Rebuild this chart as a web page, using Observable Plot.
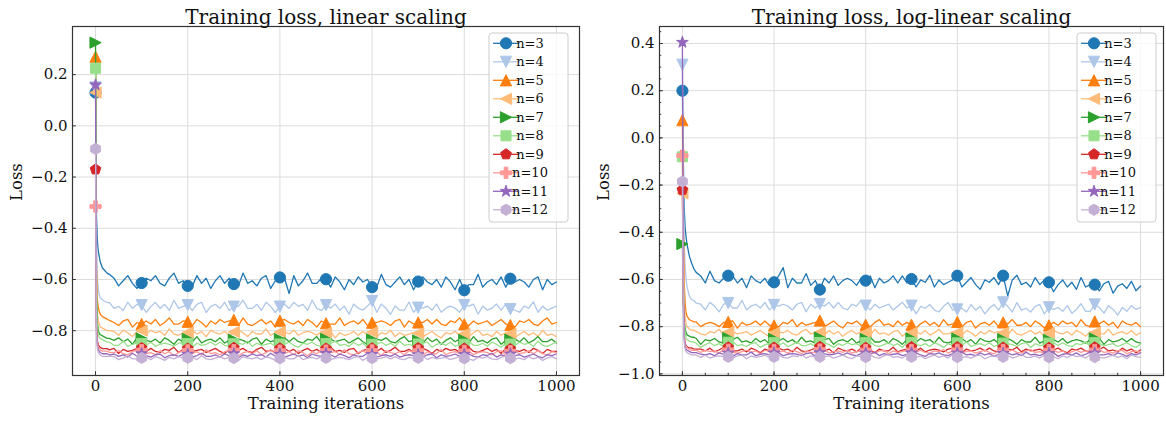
<!DOCTYPE html>
<html><head><meta charset="utf-8">
<script src="https://cdn.jsdelivr.net/npm/d3@7"></script>
<script src="https://cdn.jsdelivr.net/npm/@observablehq/plot@0.6"></script>
<style>
body{margin:0;background:#fff;}
#wrap{position:relative;width:1166px;height:422px;overflow:hidden;}
#wrap svg{position:absolute;top:0;}
</style></head><body><div id="wrap"></div>
<script>
// Iteration grid (x) — dense at the start, every 10 iterations afterwards
const iters = [0,2,4,6,8,10,15,20,25,30, ...d3.range(40, 1001, 10)];
const labels = ["n=3","n=4","n=5","n=6","n=7","n=8","n=9","n=10","n=11","n=12"];
const colors = ["#1f77b4","#aec7e8","#ff7f0e","#ffbb78","#2ca02c","#98df8a","#d62728","#ff9896","#9467bd","#c5b0d5"];
const xTicks = [0,200,400,600,800,1000];
const linYTicks = [0.2,0,-0.2,-0.4,-0.6,-0.8];
const logYTicks = [0.4,0.2,0,-0.2,-0.4,-0.6,-0.8,-1.0];

// ---- Training loss, linear scaling ----
const lin3 = [.13,-.35,-.45,-.49,-.51,-.53,-.555,-.565,-.575,-.58,
-.595,-.625,-.605,-.585,-.615,-.635,
-.614,-.595,-.605,-.585,-.615,-.625,-.595,-.575,-.615,-.605,
-.625,-.625,-.585,-.615,-.595,-.635,-.605,-.585,-.615,-.595,
-.618,-.625,-.575,-.615,-.605,-.625,-.595,-.585,-.635,-.605,
-.592,-.595,-.655,-.585,-.625,-.605,-.575,-.615,-.615,-.595,
-.599,-.63,-.59,-.61,-.64,-.60,-.62,-.59,-.61,-.60,
-.63,-.63,-.58,-.62,-.63,-.61,-.59,-.62,-.60,-.64,
-.608,-.59,-.61,-.62,-.60,-.63,-.59,-.61,-.64,-.60,
-.642,-.62,-.62,-.58,-.63,-.61,-.60,-.62,-.59,-.63,
-.597,-.61,-.60,-.61,-.63,-.60,-.59,-.64,-.60,-.62,-.61];
const lin4 = [.15,-.45,-.60,-.64,-.66,-.67,-.68,-.685,-.69,-.69,
-.713,-.705,-.721,-.689,-.713,-.697,
-.70,-.729,-.705,-.689,-.713,-.697,-.721,-.681,-.713,-.705,
-.70,-.721,-.697,-.689,-.729,-.705,-.697,-.713,-.689,-.721,
-.706,-.705,-.681,-.713,-.713,-.697,-.721,-.689,-.705,-.729,
-.706,-.697,-.713,-.689,-.705,-.697,-.721,-.681,-.713,-.721,
-.70,-.712,-.696,-.720,-.704,-.736,-.696,-.712,-.720,-.704,
-.684,-.728,-.696,-.712,-.736,-.704,-.720,-.720,-.688,-.728,
-.71,-.712,-.704,-.720,-.696,-.728,-.712,-.704,-.712,-.728,
-.70,-.704,-.696,-.736,-.704,-.720,-.712,-.696,-.720,-.696,
-.716,-.720,-.728,-.704,-.712,-.688,-.728,-.704,-.720,-.712,-.704];
const lin5 = [.27,-.55,-.68,-.71,-.725,-.735,-.745,-.75,-.755,-.76,
-.768,-.780,-.762,-.756,-.786,-.768,
-.774,-.762,-.774,-.756,-.780,-.768,-.750,-.774,-.774,-.762,
-.765,-.780,-.756,-.768,-.786,-.762,-.774,-.756,-.768,-.762,
-.758,-.780,-.750,-.774,-.780,-.768,-.756,-.774,-.762,-.786,
-.761,-.756,-.768,-.774,-.762,-.780,-.756,-.768,-.786,-.762,
-.771,-.774,-.774,-.750,-.780,-.768,-.762,-.774,-.756,-.780,
-.769,-.768,-.762,-.768,-.780,-.762,-.756,-.786,-.762,-.774,
-.768,-.768,-.756,-.774,-.756,-.774,-.780,-.762,-.768,-.750,
-.775,-.780,-.762,-.774,-.768,-.762,-.780,-.768,-.756,-.774,
-.778,-.786,-.762,-.768,-.756,-.774,-.780,-.762,-.750,-.774,-.768];
const lin6 = [.13,-.60,-.73,-.76,-.775,-.785,-.79,-.795,-.80,-.80,
-.803,-.818,-.798,-.808,-.823,-.803,
-.80,-.813,-.798,-.808,-.803,-.818,-.793,-.813,-.818,-.808,
-.807,-.798,-.813,-.803,-.823,-.798,-.808,-.813,-.803,-.818,
-.805,-.798,-.808,-.823,-.803,-.813,-.813,-.793,-.818,-.808,
-.805,-.803,-.813,-.798,-.818,-.808,-.803,-.808,-.818,-.803,
-.808,-.803,-.828,-.808,-.818,-.813,-.803,-.818,-.803,-.818,
-.806,-.823,-.808,-.813,-.798,-.823,-.808,-.818,-.813,-.808,
-.81,-.823,-.813,-.803,-.818,-.828,-.808,-.813,-.803,-.818,
-.812,-.823,-.808,-.798,-.818,-.813,-.823,-.803,-.818,-.808,
-.812,-.828,-.813,-.803,-.818,-.808,-.823,-.798,-.818,-.813,-.823];
const lin7 = [.325,-.65,-.77,-.80,-.81,-.815,-.82,-.825,-.83,-.83,
-.838,-.828,-.843,-.833,-.853,-.828,
-.83,-.838,-.843,-.833,-.848,-.828,-.838,-.853,-.833,-.843,
-.832,-.843,-.823,-.848,-.838,-.833,-.843,-.828,-.848,-.838,
-.835,-.833,-.838,-.848,-.833,-.828,-.853,-.833,-.843,-.838,
-.833,-.828,-.843,-.828,-.843,-.848,-.833,-.838,-.823,-.848,
-.832,-.833,-.843,-.838,-.833,-.848,-.838,-.828,-.843,-.853,
-.834,-.833,-.838,-.828,-.843,-.848,-.833,-.823,-.843,-.838,
-.838,-.848,-.828,-.843,-.833,-.853,-.838,-.828,-.843,-.833,
-.836,-.848,-.823,-.843,-.838,-.848,-.833,-.828,-.853,-.838,
-.835,-.833,-.843,-.828,-.848,-.838,-.823,-.843,-.843,-.833,-.848];
const lin8 = [.225,-.68,-.79,-.815,-.825,-.83,-.835,-.84,-.845,-.845,
-.857,-.857,-.841,-.861,-.853,-.849,
-.85,-.857,-.845,-.861,-.853,-.849,-.853,-.861,-.849,-.845,
-.85,-.865,-.849,-.857,-.853,-.845,-.857,-.845,-.857,-.861,
-.851,-.849,-.853,-.841,-.861,-.849,-.857,-.853,-.849,-.861,
-.852,-.853,-.845,-.857,-.865,-.849,-.853,-.845,-.857,-.861,
-.85,-.849,-.841,-.857,-.853,-.861,-.845,-.857,-.849,-.865,
-.853,-.853,-.845,-.857,-.849,-.861,-.841,-.857,-.853,-.861,
-.852,-.849,-.845,-.865,-.853,-.849,-.857,-.845,-.861,-.853,
-.853,-.841,-.857,-.857,-.849,-.861,-.845,-.853,-.865,-.849,
-.852,-.857,-.845,-.853,-.849,-.861,-.841,-.857,-.861,-.853,-.845];
const lin9 = [-.17,-.78,-.84,-.855,-.86,-.865,-.87,-.87,-.87,-.875,
-.869,-.889,-.873,-.881,-.877,-.869,
-.868,-.881,-.869,-.881,-.885,-.873,-.877,-.865,-.885,-.873,
-.87,-.881,-.877,-.873,-.885,-.877,-.869,-.881,-.889,-.873,
-.867,-.877,-.869,-.881,-.885,-.873,-.865,-.881,-.877,-.885,
-.869,-.869,-.881,-.873,-.889,-.877,-.869,-.881,-.873,-.885,
-.87,-.865,-.881,-.877,-.885,-.873,-.869,-.889,-.877,-.873,
-.869,-.881,-.869,-.885,-.877,-.865,-.881,-.881,-.873,-.885,
-.868,-.869,-.877,-.889,-.873,-.881,-.869,-.877,-.873,-.885,
-.87,-.865,-.881,-.885,-.877,-.869,-.881,-.873,-.889,-.869,
-.872,-.877,-.881,-.873,-.885,-.869,-.877,-.889,-.873,-.881,-.881];
const lin10 = [-.315,-.80,-.85,-.865,-.87,-.875,-.88,-.88,-.88,-.885,
-.886,-.878,-.890,-.894,-.882,-.874,
-.876,-.890,-.886,-.894,-.878,-.890,-.882,-.898,-.886,-.878,
-.877,-.890,-.882,-.894,-.874,-.890,-.886,-.894,-.882,-.878,
-.876,-.898,-.886,-.882,-.890,-.878,-.894,-.886,-.874,-.890,
-.878,-.890,-.882,-.894,-.878,-.886,-.898,-.882,-.890,-.878,
-.878,-.886,-.882,-.894,-.874,-.890,-.894,-.886,-.878,-.890,
-.877,-.882,-.898,-.878,-.886,-.890,-.882,-.894,-.878,-.886,
-.878,-.898,-.882,-.890,-.890,-.874,-.894,-.886,-.882,-.890,
-.879,-.878,-.894,-.886,-.882,-.886,-.894,-.882,-.878,-.898,
-.88,-.882,-.890,-.886,-.878,-.890,-.878,-.890,-.894,-.882,-.886];
const lin11 = [.16,-.80,-.86,-.875,-.88,-.885,-.89,-.89,-.89,-.895,
-.891,-.900,-.894,-.903,-.888,-.900,
-.89,-.897,-.903,-.894,-.891,-.906,-.897,-.894,-.900,-.891,
-.892,-.903,-.897,-.888,-.900,-.900,-.894,-.903,-.891,-.897,
-.89,-.906,-.894,-.900,-.891,-.897,-.894,-.903,-.888,-.900,
-.892,-.903,-.897,-.891,-.900,-.894,-.906,-.891,-.897,-.900,
-.889,-.894,-.903,-.891,-.897,-.906,-.894,-.900,-.900,-.888,
-.893,-.903,-.897,-.894,-.900,-.891,-.903,-.897,-.894,-.897,
-.894,-.903,-.894,-.891,-.906,-.894,-.900,-.897,-.891,-.900,
-.893,-.891,-.900,-.903,-.894,-.897,-.888,-.903,-.894,-.900,
-.891,-.897,-.894,-.903,-.897,-.891,-.900,-.906,-.894,-.897,-.891];
const lin12 = [-.09,-.82,-.87,-.885,-.89,-.895,-.90,-.90,-.90,-.90,
-.901,-.913,-.907,-.898,-.910,-.910,
-.906,-.904,-.913,-.901,-.907,-.916,-.904,-.910,-.901,-.907,
-.906,-.904,-.913,-.898,-.910,-.913,-.907,-.901,-.910,-.904,
-.907,-.916,-.901,-.907,-.910,-.904,-.913,-.901,-.907,-.916,
-.908,-.904,-.910,-.910,-.898,-.913,-.907,-.904,-.910,-.901,
-.906,-.913,-.907,-.904,-.907,-.913,-.904,-.901,-.916,-.904,
-.907,-.910,-.907,-.901,-.910,-.901,-.910,-.913,-.904,-.907,
-.906,-.898,-.913,-.904,-.910,-.907,-.904,-.913,-.907,-.901,
-.908,-.910,-.916,-.904,-.907,-.901,-.910,-.913,-.904,-.898,
-.907,-.910,-.907,-.913,-.901,-.910,-.904,-.916,-.907,-.901,-.910];

// ---- Training loss, log-linear scaling ----
const log3 = [.20,-.10,-.30,-.38,-.42,-.45,-.50,-.53,-.555,-.57,
-.585,-.615,-.565,-.605,-.615,-.595,
-.584,-.585,-.615,-.595,-.635,-.585,-.605,-.615,-.595,-.625,
-.612,-.585,-.55,-.635,-.595,-.615,-.615,-.575,-.625,-.605,
-.643,-.595,-.615,-.585,-.625,-.605,-.595,-.605,-.625,-.595,
-.605,-.585,-.635,-.595,-.615,-.605,-.585,-.615,-.585,-.615,
-.598,-.632,-.602,-.612,-.582,-.632,-.602,-.622,-.612,-.602,
-.584,-.632,-.612,-.592,-.622,-.642,-.602,-.612,-.592,-.622,
-.584,-.67,-.602,-.582,-.622,-.612,-.632,-.592,-.622,-.602,
-.612,-.652,-.622,-.602,-.632,-.612,-.642,-.592,-.632,-.622,
-.622,-.648,-.618,-.608,-.658,-.628,-.618,-.638,-.608,-.648,-.628];
const log4 = [.31,-.20,-.45,-.55,-.60,-.63,-.67,-.685,-.69,-.70,
-.705,-.729,-.697,-.713,-.737,-.705,
-.70,-.721,-.721,-.689,-.729,-.713,-.705,-.721,-.697,-.729,
-.708,-.713,-.705,-.713,-.729,-.705,-.697,-.737,-.705,-.721,
-.704,-.713,-.697,-.721,-.697,-.721,-.729,-.705,-.713,-.689,
-.711,-.729,-.705,-.721,-.713,-.705,-.729,-.713,-.697,-.721,
-.711,-.746,-.714,-.722,-.706,-.730,-.738,-.714,-.698,-.730,
-.727,-.722,-.738,-.706,-.730,-.714,-.746,-.722,-.706,-.730,
-.697,-.714,-.738,-.698,-.730,-.722,-.738,-.714,-.706,-.746,
-.718,-.727,-.719,-.735,-.711,-.743,-.727,-.703,-.735,-.735,
-.706,-.719,-.743,-.711,-.727,-.751,-.719,-.735,-.711,-.727,-.719];
const log5 = [.075,-.35,-.62,-.70,-.74,-.755,-.77,-.775,-.78,-.78,
-.800,-.788,-.782,-.788,-.800,-.782,
-.78,-.776,-.806,-.782,-.794,-.788,-.776,-.794,-.776,-.794,
-.795,-.800,-.782,-.788,-.770,-.800,-.782,-.794,-.788,-.782,
-.774,-.800,-.788,-.776,-.794,-.806,-.782,-.788,-.776,-.794,
-.792,-.800,-.782,-.770,-.794,-.788,-.800,-.776,-.794,-.782,
-.792,-.806,-.788,-.776,-.794,-.782,-.800,-.770,-.794,-.788,
-.78,-.800,-.782,-.776,-.806,-.788,-.782,-.794,-.776,-.800,
-.782,-.788,-.770,-.794,-.794,-.782,-.800,-.776,-.788,-.806,
-.795,-.782,-.794,-.776,-.788,-.782,-.800,-.770,-.794,-.800,
-.778,-.788,-.776,-.794,-.782,-.806,-.776,-.788,-.794,-.782,-.800];
const log6 = [-.235,-.55,-.70,-.76,-.79,-.80,-.81,-.815,-.815,-.82,
-.831,-.836,-.821,-.826,-.811,-.836,
-.823,-.821,-.831,-.826,-.821,-.836,-.826,-.816,-.831,-.841,
-.826,-.821,-.826,-.816,-.831,-.836,-.821,-.811,-.831,-.826,
-.823,-.836,-.816,-.831,-.821,-.841,-.826,-.816,-.831,-.821,
-.825,-.836,-.811,-.831,-.826,-.836,-.821,-.816,-.841,-.826,
-.826,-.821,-.831,-.816,-.836,-.826,-.811,-.831,-.831,-.821,
-.825,-.836,-.816,-.826,-.841,-.821,-.831,-.816,-.826,-.821,
-.826,-.836,-.811,-.831,-.836,-.826,-.816,-.831,-.821,-.841,
-.827,-.816,-.826,-.831,-.821,-.836,-.816,-.826,-.841,-.821,
-.826,-.831,-.831,-.811,-.836,-.826,-.821,-.831,-.816,-.836,-.826];
const log7 = [-.45,-.70,-.78,-.81,-.825,-.835,-.84,-.845,-.845,-.85,
-.875,-.855,-.860,-.850,-.865,-.870,
-.848,-.855,-.845,-.865,-.860,-.870,-.850,-.865,-.855,-.875,
-.852,-.860,-.850,-.865,-.855,-.870,-.845,-.865,-.860,-.870,
-.846,-.855,-.850,-.875,-.860,-.855,-.865,-.850,-.870,-.860,
-.852,-.845,-.865,-.865,-.855,-.870,-.850,-.860,-.875,-.855,
-.85,-.865,-.850,-.860,-.855,-.870,-.845,-.865,-.870,-.860,
-.851,-.850,-.865,-.855,-.875,-.850,-.860,-.865,-.855,-.870,
-.853,-.850,-.860,-.875,-.855,-.865,-.865,-.845,-.870,-.860,
-.856,-.855,-.865,-.850,-.870,-.860,-.855,-.860,-.870,-.855,
-.85,-.850,-.875,-.855,-.865,-.860,-.850,-.865,-.850,-.865,-.870];
const log8 = [-.08,-.60,-.78,-.83,-.85,-.855,-.86,-.865,-.865,-.87,
-.888,-.876,-.868,-.880,-.872,-.884,
-.866,-.864,-.880,-.876,-.884,-.872,-.868,-.888,-.876,-.872,
-.868,-.880,-.868,-.884,-.876,-.864,-.880,-.880,-.872,-.884,
-.867,-.868,-.876,-.888,-.872,-.880,-.868,-.876,-.872,-.884,
-.868,-.864,-.880,-.884,-.876,-.868,-.880,-.872,-.888,-.868,
-.867,-.876,-.880,-.872,-.884,-.868,-.876,-.888,-.872,-.880,
-.869,-.880,-.864,-.884,-.876,-.872,-.880,-.868,-.884,-.876,
-.87,-.872,-.876,-.884,-.872,-.868,-.888,-.872,-.880,-.876,
-.87,-.868,-.880,-.868,-.880,-.884,-.872,-.876,-.864,-.884,
-.868,-.872,-.880,-.876,-.872,-.884,-.876,-.868,-.880,-.888,-.872];
const log9 = [-.22,-.70,-.84,-.87,-.88,-.885,-.89,-.89,-.895,-.895,
-.895,-.903,-.891,-.907,-.899,-.887,
-.888,-.903,-.903,-.895,-.907,-.891,-.899,-.911,-.895,-.903,
-.889,-.891,-.899,-.895,-.907,-.887,-.903,-.907,-.899,-.891,
-.886,-.903,-.895,-.911,-.891,-.899,-.903,-.895,-.907,-.891,
-.89,-.899,-.911,-.895,-.903,-.903,-.887,-.907,-.899,-.895,
-.887,-.903,-.891,-.907,-.899,-.895,-.899,-.907,-.895,-.891,
-.887,-.911,-.895,-.903,-.899,-.891,-.903,-.891,-.903,-.907,
-.889,-.895,-.899,-.887,-.907,-.895,-.903,-.899,-.895,-.907,
-.89,-.899,-.891,-.903,-.911,-.895,-.899,-.891,-.903,-.907,
-.888,-.895,-.887,-.903,-.899,-.907,-.891,-.903,-.895,-.911,-.899];
const log10 = [-.075,-.65,-.84,-.875,-.885,-.89,-.895,-.90,-.90,-.90,
-.909,-.900,-.906,-.903,-.912,-.897,
-.898,-.909,-.912,-.906,-.900,-.909,-.903,-.915,-.900,-.906,
-.899,-.909,-.903,-.912,-.900,-.906,-.915,-.903,-.909,-.909,
-.897,-.897,-.912,-.906,-.903,-.909,-.900,-.912,-.906,-.903,
-.899,-.906,-.912,-.903,-.900,-.915,-.903,-.909,-.906,-.900,
-.899,-.909,-.900,-.909,-.912,-.903,-.906,-.897,-.912,-.903,
-.898,-.909,-.906,-.903,-.912,-.906,-.900,-.909,-.915,-.903,
-.899,-.906,-.900,-.909,-.912,-.903,-.897,-.909,-.906,-.912,
-.90,-.900,-.909,-.903,-.915,-.906,-.900,-.909,-.903,-.912,
-.899,-.897,-.909,-.906,-.912,-.903,-.900,-.915,-.906,-.903,-.909];
const log11 = [.405,-.60,-.85,-.885,-.895,-.90,-.905,-.91,-.91,-.91,
-.917,-.920,-.914,-.923,-.911,-.917,
-.912,-.926,-.914,-.920,-.920,-.908,-.923,-.917,-.914,-.920,
-.911,-.911,-.923,-.917,-.914,-.917,-.923,-.914,-.911,-.926,
-.91,-.914,-.920,-.917,-.911,-.920,-.911,-.920,-.923,-.914,
-.912,-.917,-.908,-.923,-.914,-.920,-.917,-.914,-.923,-.917,
-.911,-.911,-.920,-.926,-.914,-.917,-.911,-.920,-.923,-.914,
-.912,-.908,-.920,-.917,-.923,-.911,-.920,-.914,-.926,-.917,
-.913,-.911,-.920,-.914,-.923,-.908,-.920,-.917,-.923,-.914,
-.914,-.911,-.926,-.917,-.914,-.920,-.911,-.923,-.917,-.908,
-.912,-.920,-.920,-.914,-.923,-.911,-.917,-.926,-.914,-.920,-.911];
const log12 = [-.185,-.75,-.87,-.895,-.905,-.91,-.915,-.92,-.92,-.92,
-.930,-.921,-.933,-.927,-.924,-.927,
-.928,-.933,-.924,-.921,-.936,-.924,-.930,-.927,-.921,-.930,
-.928,-.921,-.930,-.933,-.924,-.927,-.918,-.933,-.924,-.930,
-.928,-.927,-.924,-.933,-.927,-.921,-.930,-.936,-.924,-.927,
-.929,-.921,-.930,-.933,-.924,-.918,-.930,-.927,-.933,-.921,
-.928,-.930,-.924,-.936,-.927,-.921,-.930,-.924,-.933,-.918,
-.929,-.930,-.927,-.933,-.924,-.921,-.936,-.927,-.924,-.930,
-.928,-.921,-.933,-.927,-.918,-.930,-.930,-.924,-.933,-.921,
-.93,-.927,-.936,-.924,-.930,-.921,-.927,-.924,-.933,-.918,
-.929,-.930,-.933,-.927,-.921,-.930,-.924,-.936,-.921,-.927,-.930];

const linSeries = [lin3,lin4,lin5,lin6,lin7,lin8,lin9,lin10,lin11,lin12];
const logSeries = [log3,log4,log5,log6,log7,log8,log9,log10,log11,log12];
[...linSeries, ...logSeries].forEach((s,i)=>{ if (s.length !== iters.length) throw new Error("series "+i+" has "+s.length+" values, expected "+iters.length); });

// ---- matplotlib-like marker shapes (size -> markersize = 2*sqrt(size/pi)) ----
const msOf = s => 2*Math.sqrt(s/Math.PI);
const poly = pts => ({draw(ctx, size){ const m = msOf(size); pts.forEach(([x,y],i)=> i ? ctx.lineTo(x*m,y*m) : ctx.moveTo(x*m,y*m)); ctx.closePath(); }});
const regular = (n, rOut, rIn) => { const pts=[]; const k = rIn ? 2*n : n; for (let i=0;i<k;i++){ const a = -Math.PI/2 + i*2*Math.PI/k; const r = rIn && i%2 ? rIn : rOut; pts.push([r*Math.cos(a), r*Math.sin(a)]); } return poly(pts); };
const mCircle = {draw(ctx,size){ const r = msOf(size)/2; ctx.moveTo(r,0); ctx.arc(0,0,r,0,2*Math.PI); }};
const symbols = [
  mCircle,
  poly([[0,0.5],[-0.5,-0.5],[0.5,-0.5]]),     // v
  poly([[0,-0.5],[-0.5,0.5],[0.5,0.5]]),      // ^
  poly([[-0.5,0],[0.5,-0.5],[0.5,0.5]]),      // <
  poly([[0.5,0],[-0.5,-0.5],[-0.5,0.5]]),     // >
  poly([[-0.45,-0.45],[0.45,-0.45],[0.45,0.45],[-0.45,0.45]]), // s
  regular(5, 0.5),                             // p
  poly([[-1,-3],[1,-3],[1,-1],[3,-1],[3,1],[1,1],[1,3],[-1,3],[-1,1],[-3,1],[-3,-1],[-1,-1]].map(([x,y])=>[x/6,y/6])), // P
  regular(5, 0.55, 0.21),                      // *
  regular(6, 0.5)                              // h
];
const R = 5.6; // marker radius (markersize ~11)

const fmt = d => (d < 0 ? "\u2212" : "") + Math.abs(d).toFixed(1);

function panel({series, yDomain, yTicks, minor, title, width, mL, mR}) {
  const marks = [
    Plot.gridX(xTicks, {stroke:"#dcdcdc", strokeOpacity:1, strokeWidth:1}),
    Plot.gridY(yTicks, {stroke:"#dcdcdc", strokeOpacity:1, strokeWidth:1})
  ];
  series.forEach((vals, i) => {
    const rows = iters.map((x, j) => ({x, y: vals[j]}));
    marks.push(Plot.line(rows, {x:"x", y:"y", stroke: colors[i], strokeWidth: 1.3}));
    marks.push(Plot.dot(rows.filter(d => d.x % 100 === 0 && d.x < 1000),
      {x:"x", y:"y", symbol: symbols[i], r: R, fill: colors[i], stroke: colors[i], strokeWidth: 1}));
  });
  marks.push(Plot.frame({stroke:"#333", strokeWidth:1.2}));
  if (minor) {
    marks.push(Plot.axisX(d3.range(0, 1001, 50), {anchor:"bottom", tickSize:-2.2, tickFormat:()=>"", label:null, stroke:"#333"}));
    marks.push(Plot.axisY(d3.range(-1.0, 0.46, 0.05), {anchor:"left", tickSize:-2.2, tickFormat:()=>"", label:null, stroke:"#333"}));
  }
  marks.push(Plot.axisX(xTicks, {anchor:"bottom", tickSize:-3.8, tickFormat:()=>"", label:null, stroke:"#333"}));
  marks.push(Plot.axisY(yTicks, {anchor:"left", tickSize:-3.8, tickFormat:()=>"", label:null, stroke:"#333"}));
  marks.push(Plot.axisX(xTicks, {anchor:"bottom", tickSize:0, tickPadding:5, tickFormat: d => String(d), label:null, fontSize:15, fill:"#111"}));
  marks.push(Plot.axisY(yTicks, {anchor:"left", tickSize:0, tickPadding:5, tickFormat: fmt, label:null, fontSize:15, fill:"#111"}));
  marks.push(Plot.text([title], {frameAnchor:"top", dy:-17, fontSize:20, fill:"#111"}));
  marks.push(Plot.text(["Training iterations"], {frameAnchor:"bottom", dy:33, fontSize:16.5, fill:"#111"}));
  marks.push(Plot.text(["Loss"], {frameAnchor:"left", dx:-56, rotate:-90, fontSize:16.5, fill:"#111"}));
  return Plot.plot({
    width, height:422, marginLeft:mL, marginRight:mR, marginTop:26, marginBottom:47,
    x:{domain:[-50,1050], label:null},
    y:{domain:yDomain, label:null},
    style:{fontFamily:"DejaVu Serif", background:"white", overflow:"visible"},
    marks
  });
}

function addLegend(svg, x0) {
  const g = d3.select(svg).append("g");
  g.append("rect").attr("x", x0).attr("y", 33).attr("width", 79).attr("height", 189).attr("rx", 3)
    .attr("fill", "white").attr("fill-opacity", 0.8).attr("stroke", "#cccccc").attr("stroke-width", 1);
  labels.forEach((lab, i) => {
    const y = 43.3 + i*18.5;
    g.append("line").attr("x1", x0+4).attr("x2", x0+30).attr("y1", y).attr("y2", y)
      .attr("stroke", colors[i]).attr("stroke-width", 1.3);
    g.append("path").attr("transform", `translate(${x0+17},${y})`)
      .attr("d", d3.symbol(symbols[i], R*R*Math.PI)())
      .attr("fill", colors[i]).attr("stroke", colors[i]).attr("stroke-width", 1);
    g.append("text").attr("x", x0+41).attr("y", y).attr("dy", "0.36em")
      .attr("font-family", "DejaVu Serif").attr("font-size", 13).attr("fill", "#111").text(lab);
  });
}

const wrap = document.getElementById("wrap");
const left = panel({series: linSeries, yDomain:[-0.975, 0.388], yTicks: linYTicks, minor:false,
  title:"Training loss, linear scaling", width:583, mL:72, mR:4});
left.style.left = "0px";
addLegend(left, 489);
wrap.appendChild(left);

const right = panel({series: logSeries, yDomain:[-1.007, 0.472], yTicks: logYTicks, minor:true,
  title:"Training loss, log-linear scaling", width:583, mL:76, mR:3});
right.style.left = "583px";
addLegend(right, 494);
wrap.appendChild(right);
</script></body></html>
